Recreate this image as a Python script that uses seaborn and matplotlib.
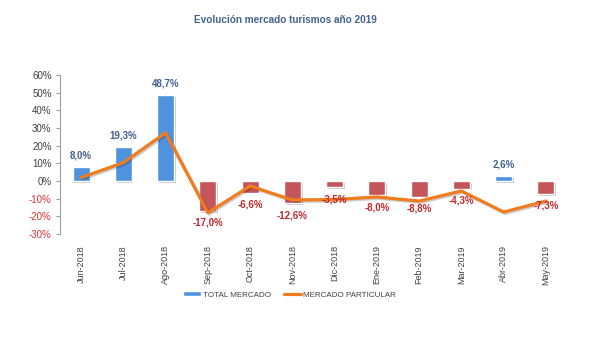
import numpy as np
import matplotlib
matplotlib.use('Agg')
import matplotlib.pyplot as plt
import matplotlib.patheffects as pe
from matplotlib.patches import Patch
from matplotlib.lines import Line2D
import seaborn as sns

months = ['Jun-2018', 'Jul-2018', 'Ago-2018', 'Sep-2018', 'Oct-2018', 'Nov-2018',
          'Dic-2018', 'Ene-2019', 'Feb-2019', 'Mar-2019', 'Abr-2019', 'May-2019']
total_mercado = [8.0, 19.3, 48.7, -17.0, -6.6, -12.6, -3.5, -8.0, -8.8, -4.3, 2.6, -7.3]
mercado_particular = [2.0, 10.4, 27.3, -17.9, -2.8, -10.7, -10.4, -9.0, -11.3, -5.6, -17.5, -11.3]
yticks = [-30, -20, -10, 0, 10, 20, 30, 40, 50, 60]

sns.set_style('white')
plt.rcParams['font.family'] = ['Liberation Sans', 'DejaVu Sans']

blue = '#4F93DE'
red = '#C4555A'
orange = '#F07C1E'
colors = [blue if v >= 0 else red for v in total_mercado]

fig = plt.figure(figsize=(5.91, 3.5), dpi=100)
ax = fig.add_axes([0.1015, 0.331, 0.858, 0.455])

sns.barplot(x=months, y=total_mercado, hue=months, palette=colors, legend=False,
            width=0.4, ax=ax, saturation=1)
for p in ax.patches:
    p.set_path_effects([pe.SimplePatchShadow(offset=(1.2, -1.2), alpha=0.25), pe.Normal()])

sns.lineplot(x=np.arange(len(months)), y=mercado_particular, color=orange, linewidth=2.3,
             ax=ax, path_effects=[pe.SimpleLineShadow(offset=(1, -1), alpha=0.2), pe.Normal()])

for i, v in enumerate(total_mercado):
    lab = f'{v:.1f}%'.replace('.', ',')
    if v >= 0:
        ax.annotate(lab, (i, v), xytext=(0, 8.5), textcoords='offset points', ha='center',
                    va='center', fontsize=7, fontweight='bold', color='#41608E')
    else:
        ax.annotate(lab, (i, v), xytext=(0, -8.5), textcoords='offset points', ha='center',
                    va='center', fontsize=7, fontweight='bold', color='#C0282D')

ax.set_xlim(-0.5, 11.5)
ax.set_ylim(-30, 60)
ax.set_yticks(yticks)
ax.set_yticklabels([f'{t}%' for t in yticks])
for t, lbl in zip(yticks, ax.get_yticklabels()):
    lbl.set_color('#E0303A' if t < 0 else '#404040')
ax.tick_params(axis='y', labelsize=7, length=3, color='#A0A0A0', left=True, pad=3)
ax.tick_params(axis='x', labelsize=6.5, labelcolor='#404040', rotation=90, length=0, pad=8)

sns.despine(ax=ax, bottom=True)
ax.spines['left'].set_color('#A0A0A0')
ax.spines['left'].set_linewidth(0.8)

handles = [Patch(facecolor=blue, label='TOTAL MERCADO'),
           Line2D([0], [0], color=orange, linewidth=2.3, label='MERCADO PARTICULAR')]
fig.legend(handles=handles, loc='center', bbox_to_anchor=(0.49, 0.157), ncol=2, frameon=False,
           fontsize=5.8, handlelength=2.2, handleheight=0.5, columnspacing=1.6, handletextpad=0.2,
           labelcolor='#404040')

fig.text(0.483, 0.943, 'Evolución mercado turismos año 2019', ha='center', va='center',
         fontsize=7.2, fontweight='bold', color='#44628F')

fig.savefig('out.png', dpi=100, facecolor='white')
